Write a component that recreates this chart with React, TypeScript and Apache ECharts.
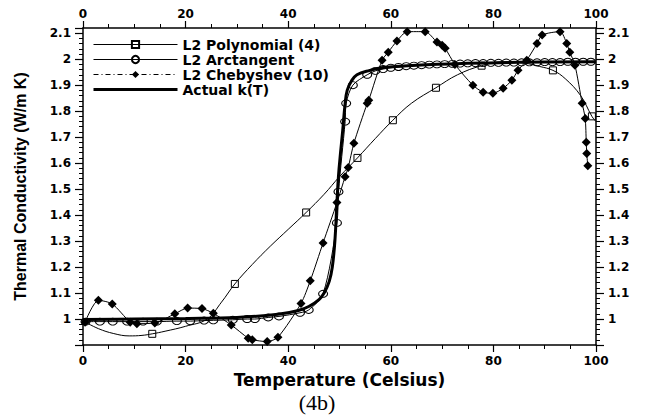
import React, { useEffect, useRef } from 'react';
import * as echarts from 'echarts';

const seriesNames = ['L2 Polynomial (4)', 'L2 Arctangent', 'L2 Chebyshev (10)', 'Actual k(T)'];
const xTitle = 'Temperature (Celsius)';
const yTitle = 'Thermal Conductivity (W/m K)';
const caption = '(4b)';

const polyCurve: [number, number][] = [
  [0, 0.993], [3, 0.963], [6, 0.944], [9, 0.935], [11.5, 0.937], [13.5, 0.943], [16, 0.953],
  [20, 0.972], [24.2, 1.0], [27, 1.065], [29.6, 1.135], [33, 1.21], [36.5, 1.28], [40, 1.345],
  [43.5, 1.41], [47, 1.48], [50, 1.548], [53.5, 1.62], [57, 1.695], [60.4, 1.765], [64, 1.83],
  [68.8, 1.89], [73, 1.94], [77.7, 1.975], [82, 1.99], [86, 1.985], [89, 1.972], [91.6, 1.957],
  [94, 1.925], [97, 1.86], [99.2, 1.78], [100, 1.76],
];
const polyMarkers = [13.5, 29.6, 43.5, 53.5, 60.4, 68.8, 77.7, 91.6, 99.2];

const arctanPoints: [number, number][] = [
  [0.5, 0.99], [3.3, 0.99], [5.8, 0.99], [8.6, 0.99], [11.7, 0.99], [14.4, 0.99], [18.3, 0.992],
  [20.9, 0.992], [23.6, 0.994], [25.4, 0.995], [29.2, 0.997], [32, 1.0], [33.5, 1.0], [36.1, 1.006],
  [38.2, 1.01], [42.3, 1.024], [44, 1.035], [46.8, 1.097], [49.5, 1.37], [49.8, 1.49], [51.1, 1.76],
  [51.3, 1.83], [52.6, 1.9], [55.4, 1.94], [57, 1.955], [58.5, 1.962], [60, 1.967], [61.5, 1.97],
  [63, 1.973], [64.5, 1.975], [66, 1.977], [67.5, 1.979], [69, 1.98], [70.5, 1.981], [72, 1.982],
  [73.5, 1.983], [75, 1.984], [76.5, 1.985], [78, 1.985], [79.5, 1.986], [81, 1.986], [82.5, 1.987],
  [84, 1.987], [85.5, 1.988], [87, 1.988], [88.5, 1.988], [90, 1.989], [91.5, 1.989], [93, 1.989],
  [94.5, 1.99], [96, 1.99], [97.5, 1.99], [99, 1.99],
];

const chebPoints: [number, number][] = [
  [0.4, 0.988], [3, 1.072], [5.7, 1.058], [9.2, 0.988], [10.5, 0.982], [14, 0.985], [17.9, 1.02],
  [20.4, 1.042], [23.2, 1.04], [25.4, 1.022], [28.9, 0.977], [32.2, 0.926], [33, 0.92], [35.9, 0.913],
  [38, 0.93], [42.5, 1.06], [44.3, 1.147], [46.8, 1.293], [49.5, 1.448], [51.1, 1.548], [51.7, 1.583],
  [52.8, 1.676], [55.4, 1.83], [55.7, 1.842], [58.3, 1.996], [59.5, 2.027], [61.2, 2.07], [63.2, 2.106],
  [66.7, 2.106], [69, 2.066], [70, 2.054], [70.6, 2.042], [72.5, 1.98], [76, 1.9], [78, 1.873],
  [79.9, 1.869], [81.9, 1.888], [83.6, 1.919], [84.8, 1.957], [86.5, 1.996], [88.5, 2.06], [89.5, 2.093],
  [93, 2.106], [94.3, 2.06], [94.9, 2.027], [95.9, 1.977], [97.3, 1.83], [97.9, 1.772], [98.1, 1.68],
  [98.2, 1.637], [98.4, 1.59],
];

const actualPoints: [number, number][] = [
  [0, 0.998], [10, 1.0], [20, 1.002], [30, 1.006], [38, 1.018], [42, 1.033], [44, 1.048], [46, 1.075],
  [47, 1.1], [48, 1.145], [48.6, 1.2], [49.1, 1.3], [49.5, 1.45], [49.8, 1.55], [50.2, 1.64],
  [50.6, 1.72], [51.1, 1.83], [51.5, 1.88], [52.3, 1.915], [53.4, 1.94], [55.9, 1.957], [58.5, 1.968],
  [65, 1.977], [75, 1.984], [85, 1.988], [100, 1.99],
];

const FONT = 'DejaVu Sans';

export default function App() {
  const ref = useRef<HTMLDivElement>(null);
  useEffect(() => {
    const chart = echarts.init(ref.current!, null, { renderer: 'svg' });
    const black = '#000';
    const axisLine = { show: true, onZero: false, lineStyle: { color: black, width: 1.5 } };
    const tickStyle = { color: black, width: 1.2 };
    const labelStyle = { color: black, fontFamily: FONT, fontWeight: 'bold' as const, fontSize: 12 };
    const yFormatter = (v: number) => {
      if (v < 0.95 || v > 2.11) return '';
      return String(Math.round(v * 10) / 10);
    };
    const xAxisBase = {
      type: 'value' as const,
      min: 0,
      max: 100,
      interval: 20,
      axisLine,
      axisTick: { show: true, length: 7, lineStyle: tickStyle },
      minorTick: { show: true, splitNumber: 4, length: 4, lineStyle: { color: black, width: 1 } },
      splitLine: { show: false },
      minorSplitLine: { show: false },
    };
    const yAxisBase = {
      type: 'value' as const,
      min: 0.9,
      max: 2.12,
      interval: 0.1,
      axisLine,
      axisTick: { show: true, length: 8, lineStyle: tickStyle },
      minorTick: { show: true, splitNumber: 5, length: 4, lineStyle: { color: black, width: 1 } },
      splitLine: { show: false },
      minorSplitLine: { show: false },
    };

    const option: any = {
      animation: false,
      backgroundColor: '#fff',
      grid: { left: 83, right: 49, top: 28, bottom: 74, containLabel: false },
      legend: {
        orient: 'vertical',
        left: 93,
        top: 37,
        padding: 0,
        itemWidth: 84,
        itemHeight: 9,
        itemGap: 0,
        selectedMode: false,
        textStyle: { color: black, fontFamily: FONT, fontWeight: 'bold', fontSize: 14, lineHeight: 15 },
        data: [
          { name: seriesNames[0], lineStyle: { width: 1 } },
          { name: seriesNames[1], lineStyle: { width: 1 } },
          { name: seriesNames[2], lineStyle: { width: 1, type: [5, 3, 1, 3] } },
          { name: seriesNames[3], icon: 'path://M0 0H84V3H0Z', itemStyle: { color: black } },
        ],
      },
      xAxis: [
        {
          ...xAxisBase,
          position: 'bottom',
          axisLabel: { ...labelStyle, margin: 10 },
          name: xTitle,
          nameLocation: 'middle',
          nameGap: 26,
          nameTextStyle: { color: black, fontFamily: FONT, fontWeight: 'bold', fontSize: 17 },
        },
        {
          ...xAxisBase,
          position: 'top',
          axisLabel: { ...labelStyle, margin: 8 },
        },
      ],
      yAxis: [
        {
          ...yAxisBase,
          position: 'left',
          axisLabel: { ...labelStyle, margin: 12, formatter: yFormatter },
          name: yTitle,
          nameLocation: 'middle',
          nameGap: 55,
          nameTextStyle: { color: black, fontFamily: 'Liberation Sans', fontWeight: 'bold', fontSize: 16 },
        },
        {
          ...yAxisBase,
          position: 'right',
          axisLabel: { ...labelStyle, margin: 12, formatter: yFormatter },
        },
      ],
      series: [
        {
          name: seriesNames[0],
          type: 'line',
          smooth: 0.4,
          symbol: 'rect',
          symbolSize: 7,
          showAllSymbol: true,
          lineStyle: { color: black, width: 1 },
          itemStyle: { color: 'rgba(0,0,0,0)', borderColor: black, borderWidth: 1 },
          data: polyCurve.map(([x, y]) => ({
            value: [x, y],
            symbol: polyMarkers.includes(x) ? 'rect' : 'none',
          })),
          z: 3,
        },
        {
          name: seriesNames[1],
          type: 'line',
          smooth: 0.3,
          symbol: 'circle',
          symbolSize: [9, 7],
          showAllSymbol: true,
          lineStyle: { color: black, width: 1 },
          itemStyle: { color: 'rgba(0,0,0,0)', borderColor: black, borderWidth: 1 },
          data: arctanPoints,
          z: 4,
        },
        {
          name: seriesNames[2],
          type: 'line',
          smooth: 0.25,
          symbol: 'diamond',
          symbolSize: 9,
          showAllSymbol: true,
          lineStyle: { color: black, width: 1 },
          itemStyle: { color: black, borderColor: black, borderWidth: 0 },
          data: chebPoints,
          z: 5,
        },
        {
          name: seriesNames[3],
          type: 'line',
          smooth: 0.4,
          symbol: 'none',
          lineStyle: { color: black, width: 3 },
          itemStyle: { color: black },
          data: actualPoints,
          z: 6,
        },
      ],
      graphic: [
        {
          type: 'text',
          x: 317,
          y: 402,
          style: {
            text: caption,
            font: '22px "Liberation Serif"',
            fill: black,
            align: 'center',
            verticalAlign: 'middle',
          },
        },
      ],
    };
    chart.setOption(option);
    return () => chart.dispose();
  }, []);
  return (
    <div
      ref={ref}
      style={{ position: 'fixed', left: 0, top: 0, width: 645, height: 419, background: '#fff' }}
    />
  );
}
